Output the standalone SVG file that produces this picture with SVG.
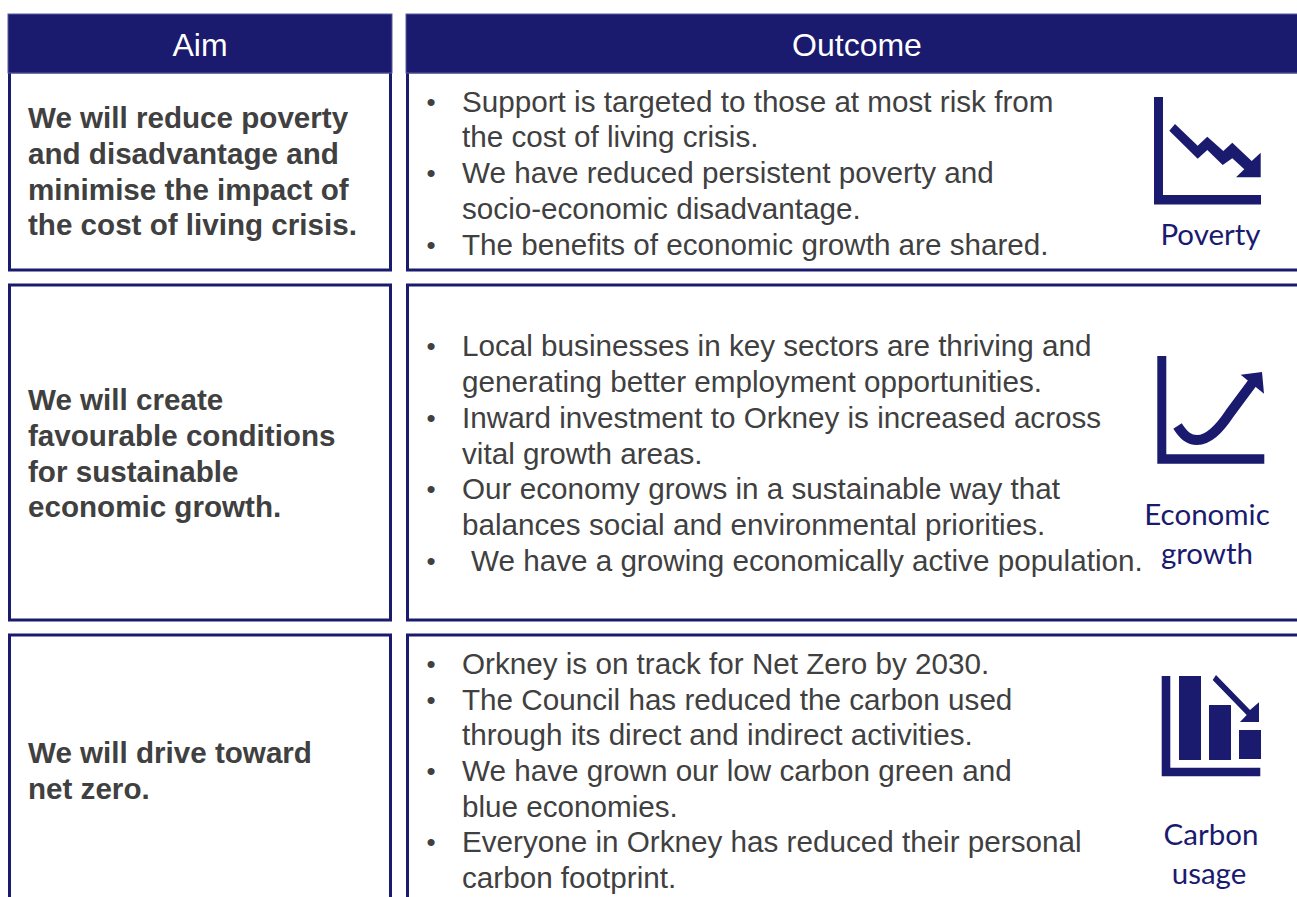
<svg xmlns="http://www.w3.org/2000/svg" width="1297" height="897" viewBox="0 0 1297 897">
<style>
.box{fill:#fff;stroke:#1a1a6e;stroke-width:3}
.hd{fill:#1a1a6e;stroke:#5a5aa0;stroke-width:1}
.ht{font:32px "Liberation Sans",Arial,sans-serif;fill:#fff;text-anchor:middle}
.aim{font:bold 29.6px "Liberation Sans",Arial,sans-serif;fill:#404040}
.o{font:29.65px "Liberation Sans",Arial,sans-serif;fill:#404040}
.b{font:26px "Liberation Sans",Arial,sans-serif;fill:#404040}
.lb{font:29.5px Lato,"Noto Sans",sans-serif;fill:#1a1a6e;text-anchor:middle}
.ic{fill:#1a1a6e}
.cv{fill:none;stroke:#1a1a6e;stroke-width:10}
</style>
<rect width="1297" height="897" fill="#fff"/>
<g id="aim-1"><rect class="box" x="9.500" y="72" width="381" height="198"/>
<text class="aim" x="28" y="128">We will reduce poverty</text>
<text class="aim" x="28" y="164">and disadvantage and</text>
<text class="aim" x="28" y="200">minimise the impact of</text>
<text class="aim" x="28" y="235">the cost of living crisis.</text></g>
<g id="outcome-1"><rect class="box" x="407.500" y="72" width="895" height="198"/>
<text class="b" x="426.500" y="110.500">•</text><text class="o" x="462" y="112">Support is targeted to those at most risk from</text>
<text class="o" x="462" y="147">the cost of living crisis.</text>
<text class="b" x="426.500" y="181.500">•</text><text class="o" x="462" y="183">We have reduced persistent poverty and</text>
<text class="o" x="462" y="219">socio-economic disadvantage.</text>
<text class="b" x="426.500" y="253.500">•</text><text class="o" x="462" y="255">The benefits of economic growth are shared.</text></g>
<g id="header-aim"><rect class="hd" x="8" y="14" width="384" height="59"/><text class="ht" x="200" y="56">Aim</text></g>
<g id="header-outcome"><rect class="hd" x="406" y="14" width="895" height="59"/><text class="ht" x="857" y="56">Outcome</text></g>
<g id="icon-poverty">
<path class="ic" d="M1154 97h9v98h98v9.500h-107z"/>
<path class="ic" d="M1175 124L1197.700 145.700 1207.300 136.700 1223.300 151 1232.300 142.700 1251.700 161 1260.700 152.700V177.300H1236L1244.300 169.300 1232.300 158.300 1222.700 165 1207.300 150 1197.700 158.700 1169.300 130.700z"/>
<text class="lb" x="1210.500" y="245">Poverty</text></g>
<g id="aim-2"><rect class="box" x="9.500" y="285" width="381" height="335"/>
<text class="aim" x="28" y="410">We will create</text>
<text class="aim" x="28" y="446">favourable conditions</text>
<text class="aim" x="28" y="482">for sustainable</text>
<text class="aim" x="28" y="517">economic growth.</text></g>
<g id="outcome-2"><rect class="box" x="407.500" y="285" width="895" height="335"/>
<text class="b" x="426.500" y="354.500">•</text><text class="o" x="462" y="356">Local businesses in key sectors are thriving and</text>
<text class="o" x="462" y="392">generating better employment opportunities.</text>
<text class="b" x="426.500" y="426.500">•</text><text class="o" x="462" y="428">Inward investment to Orkney is increased across</text>
<text class="o" x="462" y="464">vital growth areas.</text>
<text class="b" x="426.500" y="497.500">•</text><text class="o" x="462" y="499">Our economy grows in a sustainable way that</text>
<text class="o" x="462" y="535">balances social and environmental priorities.</text>
<text class="b" x="426.500" y="569.500">•</text><text class="o" x="471" y="571">We have a growing economically active population.</text></g>
<g id="icon-growth">
<path class="ic" d="M1157.300 356h9v98.300h98v9.400h-107z"/>
<path class="cv" d="M1177.500 426C1184 436 1189 440 1197 440C1208 440 1218 431 1230 413L1253 382"/>
<path class="ic" d="M1240.700 374.700L1262 372 1264 393.700z"/>
<text class="lb" x="1207" y="525">Economic</text>
<text class="lb" x="1207" y="564">growth</text></g>
<g id="aim-3"><rect class="box" x="9.500" y="635" width="381" height="280"/>
<text class="aim" x="28" y="763">We will drive toward</text>
<text class="aim" x="28" y="799">net zero.</text></g>
<g id="outcome-3"><rect class="box" x="407.500" y="635" width="895" height="280"/>
<text class="b" x="426.500" y="672.500">•</text><text class="o" x="462" y="674">Orkney is on track for Net Zero by 2030.</text>
<text class="b" x="426.500" y="708.500">•</text><text class="o" x="462" y="710">The Council has reduced the carbon used</text>
<text class="o" x="462" y="745">through its direct and indirect activities.</text>
<text class="b" x="426.500" y="779.500">•</text><text class="o" x="462" y="781">We have grown our low carbon green and</text>
<text class="o" x="462" y="817">blue economies.</text>
<text class="b" x="426.500" y="850.500">•</text><text class="o" x="462" y="852">Everyone in Orkney has reduced their personal</text>
<text class="o" x="462" y="888">carbon footprint.</text></g>
<g id="icon-carbon">
<path class="ic" d="M1161.700 676h8.600v91.700h90v8.600h-98.600z"/>
<rect class="ic" x="1179" y="676" width="22" height="84"/>
<rect class="ic" x="1209" y="705" width="22" height="55"/>
<rect class="ic" x="1239" y="730" width="22" height="29"/>
<path class="ic" d="M1212.700 680L1216 675 1250 710 1259 702.300V722H1240L1246.700 715z"/>
<text class="lb" x="1211" y="845">Carbon</text>
<text class="lb" x="1209" y="884">usage</text></g>
<g id="connectors"></g>
</svg>
